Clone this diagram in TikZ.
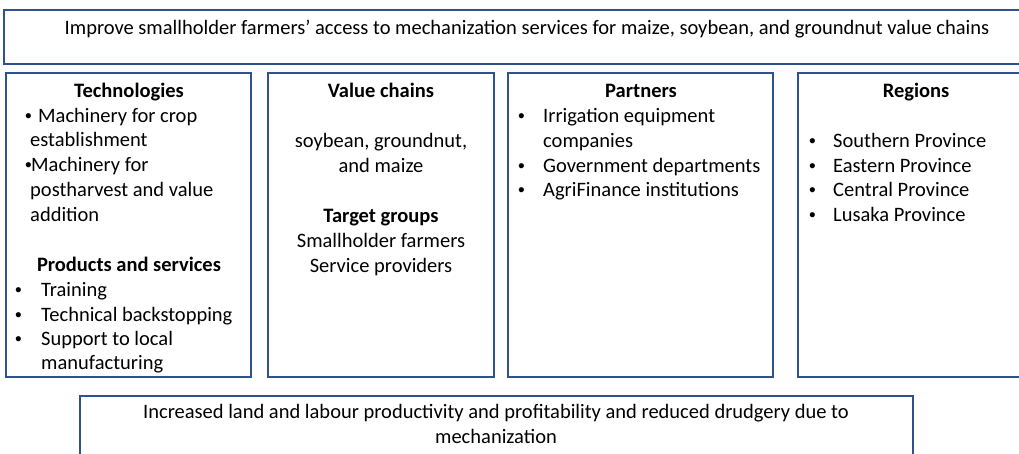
\documentclass[tikz,border=0pt]{standalone}
\usepackage{fontspec}
\setmainfont{Carlito}
\newfontfamily\bulletfont{Liberation Sans}
\definecolor{boxblue}{HTML}{2F528F}
\begin{document}
\begin{tikzpicture}[x=1pt,y=-1pt,
  box/.style={draw=boxblue, line width=1.1pt, inner sep=0pt, outer sep=0pt, anchor=north west},
  txt/.style={inner sep=0pt, anchor=base west, font=\fontsize{20.5}{24}\selectfont},
  ctxt/.style={txt, anchor=base},
  hd/.style={ctxt, font=\fontsize{20.5}{24}\selectfont\bfseries},
  bul/.style={txt, font=\fontsize{19}{24}\bulletfont}]
\useasboundingbox (0,0) rectangle (1019,453);
\clip (0,0) rectangle (1019,453);
% boxes
\node[box, minimum width=1021pt, minimum height=54pt] (goal) at (4,10) {};
\node[box, minimum width=245pt, minimum height=304pt] (tech) at (6,73) {};
\node[box, minimum width=226pt, minimum height=304pt] (vc) at (268,73) {};
\node[box, minimum width=265pt, minimum height=304pt] (part) at (508,73) {};
\node[box, minimum width=227pt, minimum height=304pt] (reg) at (798,73) {};
\node[box, minimum width=833pt, minimum height=70pt] (out) at (80,396) {};
% goal text
\node[ctxt] (goaltxt) at (527,34) {Improve smallholder farmers’ access to mechanization services for maize, soybean, and groundnut value chains};
% technologies
\node[hd] (techhd) at (129,97) {Technologies};
\node[bul] (t1b) at (25,122) {•};
\node[txt] (t1) at (38,122) {Machinery for crop};
\node[txt] (t2) at (30,146) {establishment};
\node[bul] (t3b) at (25,171) {•};
\node[txt] (t3) at (31,171) {Machinery for};
\node[txt] (t4) at (30,196) {postharvest and value};
\node[txt] (t5) at (30,221) {addition};
\node[hd] (prodhd) at (129,271) {Products and services};
\node[bul] (p1b) at (15,296) {•};
\node[txt] (p1) at (41,296) {Training};
\node[bul] (p2b) at (15,321) {•};
\node[txt] (p2) at (41,321) {Technical backstopping};
\node[bul] (p3b) at (15,345) {•};
\node[txt] (p3) at (41,345) {Support to local};
\node[txt] (p4) at (41,369) {manufacturing};
% value chains
\node[hd] (vchd) at (381,97) {Value chains};
\node[ctxt] (v1) at (381,147) {soybean, groundnut,};
\node[ctxt] (v2) at (381,172) {and maize};
\node[hd] (tghd) at (381,222) {Target groups};
\node[ctxt] (g1) at (381,247) {Smallholder farmers};
\node[ctxt] (g2) at (381,272) {Service providers};
% partners
\node[hd] (parthd) at (641,97) {Partners};
\node[bul] (a1b) at (518,122) {•};
\node[txt] (a1) at (543,122) {Irrigation equipment};
\node[txt] (a2) at (543,147) {companies};
\node[bul] (a3b) at (518,172) {•};
\node[txt] (a3) at (543,172) {Government departments};
\node[bul] (a4b) at (518,196) {•};
\node[txt] (a4) at (543,196) {AgriFinance institutions};
% regions
\node[hd] (reghd) at (916,97) {Regions};
\node[bul] (r1b) at (809,147) {•};
\node[txt] (r1) at (833,147) {Southern Province};
\node[bul] (r2b) at (809,172) {•};
\node[txt] (r2) at (833,172) {Eastern Province};
\node[bul] (r3b) at (809,196) {•};
\node[txt] (r3) at (833,196) {Central Province};
\node[bul] (r4b) at (809,221) {•};
\node[txt] (r4) at (833,221) {Lusaka Province};
% outcome
\node[ctxt] (o1) at (496,418) {Increased land and labour productivity and profitability and reduced drudgery due to};
\node[ctxt] (o2) at (496,443) {mechanization};
\end{tikzpicture}
\end{document}
